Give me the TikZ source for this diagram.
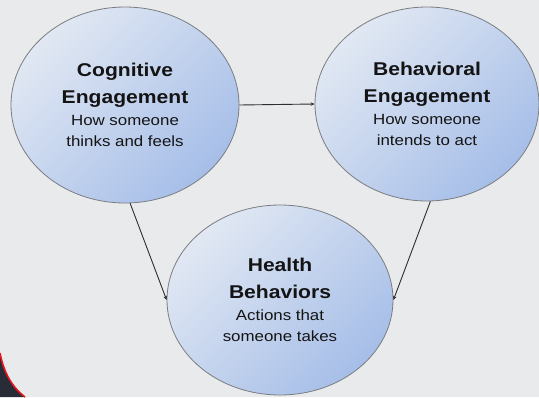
\documentclass[tikz,border=0pt]{standalone}
\usepackage{fontspec}
\setmainfont{Liberation Sans}[FakeStretch=1.14]
\usetikzlibrary{shapes.geometric,arrows.meta}
\definecolor{bgc}{HTML}{E9EAEC}
\definecolor{lightc}{HTML}{E1E8F3}
\definecolor{darkc}{HTML}{A6BEE8}
\definecolor{edgec}{HTML}{7A7D82}
\definecolor{cornerc}{HTML}{272C36}
\definecolor{redc}{HTML}{E8141B}
\definecolor{arrc}{HTML}{2E2E2E}
\tikzset{
  bubble/.style={ellipse, draw=edgec, line width=0.8pt, top color=lightc, bottom color=darkc,
    shading angle=45, inner sep=0pt, align=center, text=black!92,
    font=\fontsize{14.8}{21.5}\selectfont},
  link/.style={draw=arrc, line width=0.9pt, -{Stealth[length=4pt,width=3.5pt]}}
}
\newcommand{\headline}[1]{{\bfseries\fontsize{18.5}{21}\selectfont #1}}
\begin{document}
\begin{tikzpicture}[x=1pt,y=-1pt]
\useasboundingbox (0,0) rectangle (539,397);
\fill[bgc] (0,0) rectangle (539,397);
\fill[cornerc] (0,353) .. controls (4,374) and (13,388) .. (25,397) -- (0,397) -- cycle;
\draw[redc, line width=1.6pt] (0,353) .. controls (4,374) and (13,388) .. (25,397);
\node[bubble, minimum width=228pt, minimum height=196pt] (c1) at (125,105)
  {\headline{Cognitive}\\[5.5pt]\headline{Engagement}\\[0.5pt]How someone\\thinks and feels};
\node[bubble, minimum width=224pt, minimum height=194pt] (c2) at (427,104)
  {\headline{Behavioral}\\[5.5pt]\headline{Engagement}\\[0.5pt]How someone\\intends to act};
\node[bubble, minimum width=226pt, minimum height=190pt] (c3) at (280,300)
  {\headline{Health}\\[5.5pt]\headline{Behaviors}\\[0.5pt]Actions that\\someone takes};
\draw[link] (c1.east) -- (c2.west);
\draw[link] (c1.-87) -- (c3.west);
\draw[link] (c2.-88) -- (c3.east);
\end{tikzpicture}
\end{document}
